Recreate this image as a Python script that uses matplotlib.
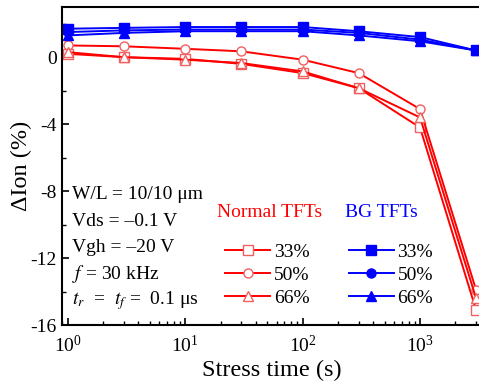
import numpy as np
import matplotlib.pyplot as plt
from matplotlib.lines import Line2D
from matplotlib.ticker import MultipleLocator

# stress time (s)
stress_time = [1, 3, 10, 30, 100, 300, 1000, 3000]

# normal TFTs, delta Ion (%)
normal_33 = [0.2, 0.0, -0.1, -0.4, -0.95, -1.85, -4.2, -15.1]
normal_50 = [0.7, 0.65, 0.5, 0.35, -0.15, -0.95, -3.1, -13.9]
normal_66 = [0.3, 0.0, -0.15, -0.35, -0.85, -1.85, -3.6, -14.4]

# BG TFTs, delta Ion (%)
bg_33 = [1.7, 1.75, 1.8, 1.8, 1.8, 1.55, 1.2, 0.4]
bg_50 = [1.5, 1.6, 1.65, 1.65, 1.65, 1.45, 1.05, 0.4]
bg_66 = [1.3, 1.45, 1.55, 1.55, 1.55, 1.3, 0.95, 0.4]

labels = ['33%', '50%', '66%']

plt.rcParams['font.family'] = ['Liberation Serif', 'DejaVu Serif']
plt.rcParams['mathtext.fontset'] = 'stix'

fig = plt.figure(figsize=(4.79, 3.86), dpi=100)
ax = fig.add_axes([0.129, 0.158, 0.875, 0.824])

red = '#ff0000'
blue = '#0000ff'

normal_series = [(normal_33, 's'), (normal_50, 'o'), (normal_66, '^')]
bg_series = [(bg_33, 's'), (bg_50, 'o'), (bg_66, '^')]

red_handles = []
for vals, mk in normal_series:
  ln, = ax.plot(stress_time, vals, color=red, lw=1.4, marker=mk, ms=6.5,
                mfc='white', mec='#f06060', mew=1.0)
  red_handles.append(ln)

blue_handles = []
for vals, mk in bg_series:
  ln, = ax.plot(stress_time, vals, color=blue, lw=1.4, marker=mk, ms=6.5,
                mfc=blue, mec=blue)
  blue_handles.append(ln)

ax.set_xscale('log')
ax.set_xlim(0.89, 3300)
ax.set_ylim(-16, 3)
ax.yaxis.set_major_locator(MultipleLocator(4))
ax.yaxis.set_minor_locator(MultipleLocator(2))
ax.tick_params(which='both', direction='in', top=False, right=False,
               labelsize=14)
ax.tick_params(axis='x', which='major', pad=7)
ax.tick_params(which='major', length=5, width=1.2)
ax.tick_params(which='minor', length=3, width=1.0)
ax.set_yticks([0, -4, -8, -12, -16])
ax.set_yticklabels(['0', '-4', '-8', '-12', '-16'])
for sp in ax.spines.values():
  sp.set_linewidth(1.5)
ax.spines['right'].set_visible(False)

ax.set_xlabel('Stress time (s)', fontsize=17.5, labelpad=3)
ax.set_ylabel('ΔIon (%)', fontsize=17.5, labelpad=-1)

# condition notes
notes = ['W/L = 10/10 μm', 'Vds = –0.1 V', 'Vgh = –20 V',
         '$f$ = 30 kHz', '$t_r$  =  $t_f$ =  0.1 μs']
for i, s in enumerate(notes):
  ax.text(0.024, 0.41 - i * 0.083, s, transform=ax.transAxes,
          fontsize=14, va='center', ha='left')

ax.text(0.37, 0.355, 'Normal TFTs', transform=ax.transAxes, fontsize=14,
        color=red, va='center', ha='left')
ax.text(0.675, 0.355, 'BG TFTs', transform=ax.transAxes, fontsize=14,
        color=blue, va='center', ha='left')

leg_kw = dict(frameon=False, fontsize=14, handlelength=2.3,
              handletextpad=0.2, labelspacing=0.28, borderpad=0,
              borderaxespad=0, loc='upper left')
leg1 = ax.legend(red_handles, labels, bbox_to_anchor=(0.39, 0.258), **leg_kw)
ax.add_artist(leg1)
ax.legend(blue_handles, labels, bbox_to_anchor=(0.685, 0.258), **leg_kw)

fig.savefig('out.png', dpi=100)
